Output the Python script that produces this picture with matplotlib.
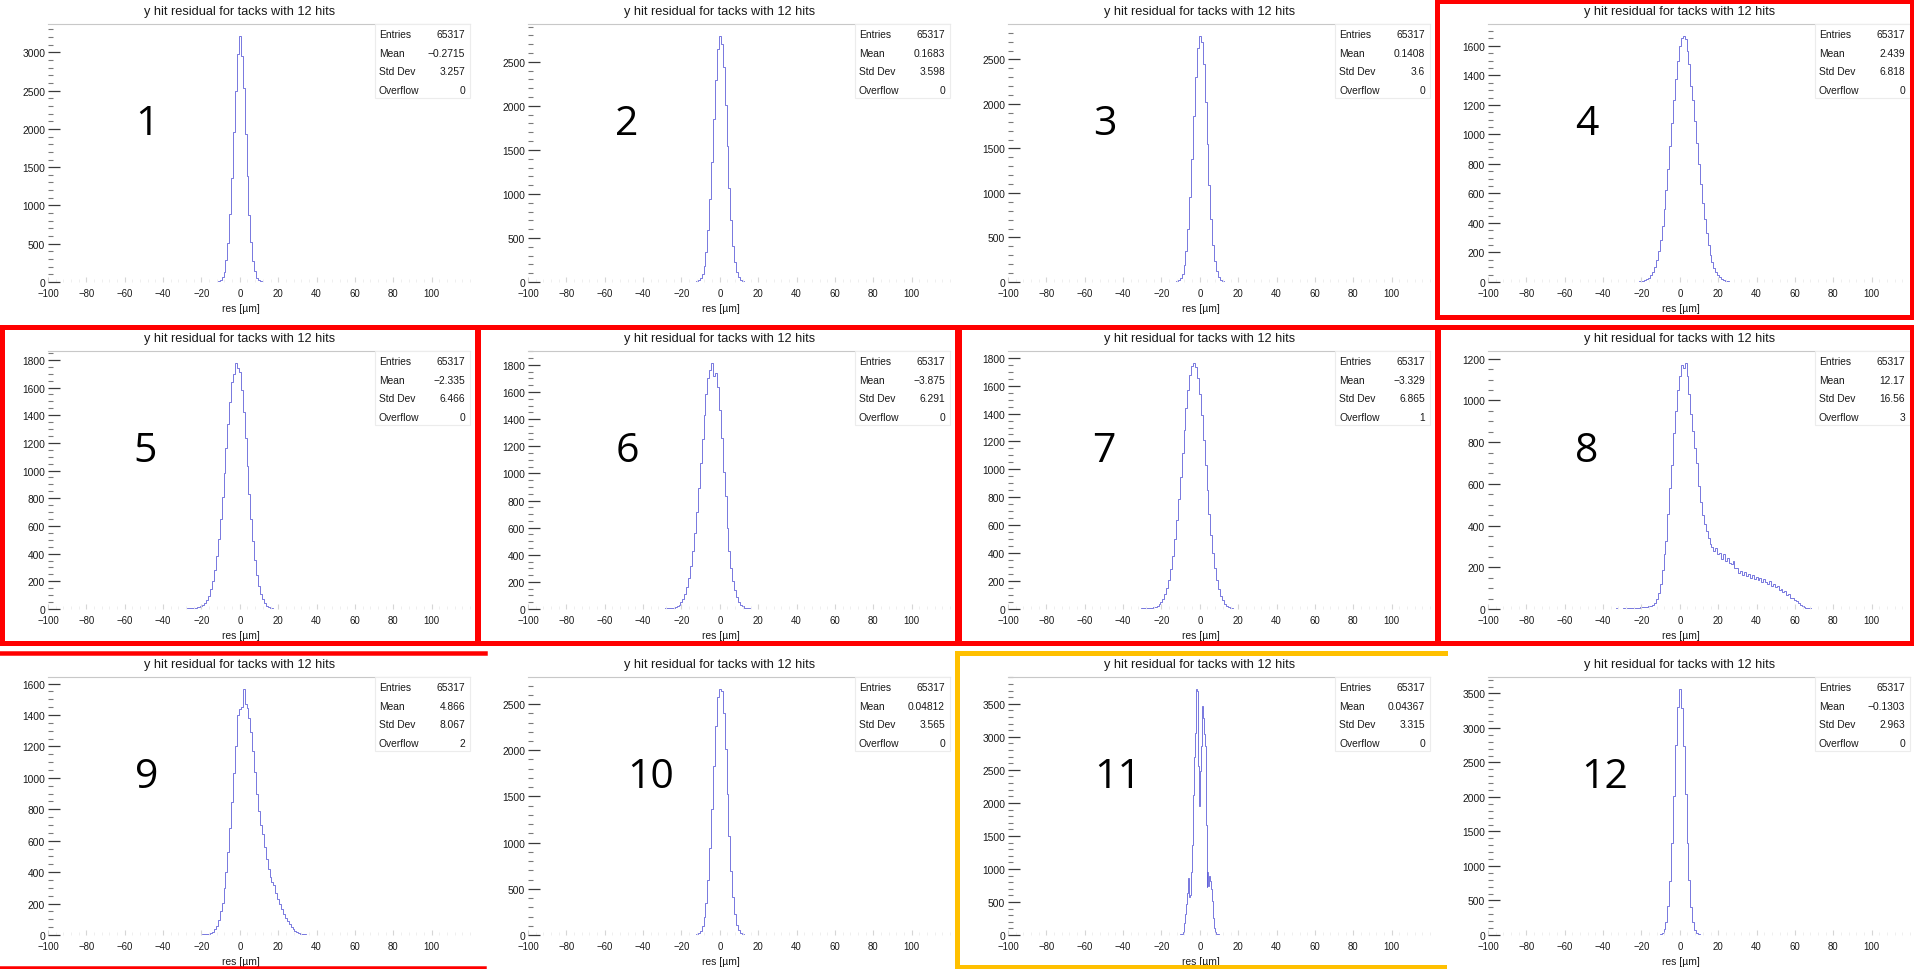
import numpy as np
import matplotlib
matplotlib.use("Agg")
import matplotlib.pyplot as plt
from matplotlib.lines import Line2D
from matplotlib.patches import Rectangle
from matplotlib.ticker import MultipleLocator, FuncFormatter

# ---------------------------------------------------------------- data
# y hit residuals per plane (counts per bin); bins start at res_lo, width res_width
res_lo = [-12.5, -12.5, -12.5, -25.5, -30.5, -32.5, -35.5, -40.5, -30.5, -12.5, -12.0, -12.5]
res_width = [1, 1, 1, 1, 1, 1, 1, 1, 1, 1, 0.5, 1]

counts_1 = [4, 9, 24, 63, 131, 284, 512, 893, 1362, 1960, 2495, 2985, 3210, 2950, 2530,
            1930, 1390, 870, 525, 270, 140, 58, 27, 10, 4]
counts_2 = [7, 18, 40, 92, 180, 345, 586, 941, 1368, 1856, 2296, 2645, 2790, 2705, 2440,
            2005, 1540, 1070, 701, 412, 232, 114, 55, 22, 9]
counts_3 = [8, 19, 44, 95, 190, 350, 600, 950, 1380, 1860, 2300, 2630, 2760, 2700, 2450,
            2020, 1550, 1085, 705, 420, 235, 118, 56, 24, 10]
counts_4 = [1, 2, 2, 3, 4, 4, 7, 12, 19, 30,
            47, 71, 105, 150, 209, 285, 380, 492, 622, 767,
            922, 1080, 1234, 1376, 1495, 1600, 1655, 1665, 1648, 1566,
            1477, 1330, 1232, 1089, 942, 797, 661, 536, 425, 330,
            251, 186, 136, 97, 67, 46, 31, 20, 13, 8,
            5, 3, 2, 1]
counts_5 = [2, 3, 3, 4, 5, 6, 7, 9, 12, 16,
            22, 31, 45, 66, 95, 141, 202, 282, 383, 506,
            649, 811, 984, 1163, 1336, 1493, 1640, 1700, 1775, 1740,
            1710, 1584, 1423, 1235, 1032, 834, 650, 489, 355, 249,
            168, 110, 69, 42, 25, 14, 8, 5, 3, 2, 1]
counts_6 = [2, 2, 3, 3, 4, 5, 6, 7, 9, 13,
            20, 31, 48, 71, 108, 159, 228, 317, 428, 563,
            718, 891, 1073, 1257, 1431, 1582, 1700, 1760, 1812, 1720,
            1740, 1640, 1470, 1260, 1010, 830, 600, 430, 300, 205,
            139, 89, 55, 33, 19, 10, 6, 4, 3, 2, 1]
counts_7 = [1, 2, 2, 3, 3, 4, 4, 5, 6, 7,
            9, 12, 16, 23, 34, 50, 70, 104, 149, 209,
            287, 383, 499, 634, 786, 949, 1118, 1284, 1439, 1572,
            1673, 1738, 1760, 1734, 1658, 1540, 1387, 1214, 1031, 850,
            680, 528, 398, 291, 207, 143, 96, 62, 39, 24,
            14, 8, 5, 3, 2, 1]
counts_8 = [1, 0, 2, 1, 1, 2, 0, 3, 1, 2,
            2, 3, 2, 4, 3, 5, 4, 5, 6, 6,
            8, 9, 10, 11, 12, 14, 18, 27, 46, 76,
            122, 188, 262, 328, 455, 578, 690, 842, 948, 1052,
            1118, 1172, 1155, 1178, 1118, 1032, 936, 852, 772, 702,
            592, 512, 452, 408, 372, 340, 312, 298, 276, 292,
            262, 270, 241, 262, 230, 246, 221, 214, 228, 196,
            195, 172, 184, 162, 178, 156, 168, 150, 162, 143,
            152, 138, 148, 130, 142, 128, 122, 132, 110, 118,
            104, 110, 92, 98, 82, 84, 66, 70, 54, 52,
            42, 40, 28, 20, 14, 9, 6, 4, 3, 2,
            2, 1, 1, 1, 0, 1]
counts_9 = [1, 1, 2, 1, 2, 2, 1, 2, 3, 2,
            3, 4, 5, 6, 8, 11, 20, 38, 60, 96,
            150, 205, 300, 400, 530, 680, 846, 1030, 1200, 1400,
            1440, 1452, 1564, 1468, 1446, 1380, 1290, 1170, 1040, 900,
            790, 700, 640, 560, 482, 420, 372, 338, 316, 270,
            232, 198, 165, 136, 110, 88, 70, 52, 38, 25,
            16, 10, 7, 5, 4, 3, 3, 2, 2, 1, 1]
counts_10 = [8, 19, 42, 95, 190, 350, 600, 940, 1360, 1830, 2260, 2580, 2660, 2640, 2400,
             2010, 1530, 1070, 690, 410, 225, 112, 52, 21, 9]
counts_11 = [2, 4, 6, 10, 14, 22, 40, 80, 180, 320,
             470, 640, 860, 580, 600, 960, 1360, 2120, 2700, 3060,
             3720, 3700, 2560, 1960, 2480, 2860, 3470, 3290, 3050, 2860,
             1660, 720, 950, 740, 900, 820, 700, 520, 250, 100,
             45, 22, 12, 8, 5, 3, 2, 1]
counts_12 = [1, 3, 11, 29, 82, 190, 415, 780, 1340, 2020, 2750, 3300, 3560, 3290, 2735,
             2040, 1330, 790, 405, 195, 78, 31, 10, 3, 1]

entries = [65317, 65317, 65317, 65317, 65317, 65317, 65317, 65317, 65317, 65317, 65317, 65317]
means = [-0.2715, 0.1683, 0.1408, 2.439, -2.335, -3.875, -3.329, 12.17, 4.866, 0.04812, 0.04367, -0.1303]
std_devs = [3.257, 3.598, 3.6, 6.818, 6.466, 6.291, 6.865, 16.56, 8.067, 3.565, 3.315, 2.963]
overflows = [0, 0, 0, 0, 0, 0, 1, 3, 2, 0, 0, 0]

y_major = [500, 500, 500, 200, 200, 200, 200, 200, 200, 500, 500, 500]
y_minor = [100, 100, 100, 50, 50, 50, 50, 50, 50, 100, 100, 100]
x_ticks = [-100, -80, -60, -40, -20, 0, 20, 40, 60, 80, 100]

title = "y hit residual for tacks with 12 hits"
xlabel = "res [\u00b5m]"

counts_all = [counts_1, counts_2, counts_3, counts_4, counts_5, counts_6,
              counts_7, counts_8, counts_9, counts_10, counts_11, counts_12]

# ---------------------------------------------------------------- layout
W, H, DPI = 1915, 970, 100
COL_W = 480
ROW_TOPS = [0, 327, 653]
panel_tag_x = [147, 147, 145, 147, 145, 147, 144, 147, 147, 171, 158, 165]

plt.rcParams["font.family"] = ["Liberation Sans", "DejaVu Sans"]
TXT = "#1a1a1a"
HIST_C = "#3a3ad0"

fig = plt.figure(figsize=(W / DPI, H / DPI), dpi=DPI)
fig.patch.set_facecolor("white")


def fx(px):
    return px / W


def fy(py):
    return 1 - py / H


def fmt_num(v):
    return f"{v:.4g}".replace("-", "\u2212")


for i in range(12):
    r, c = divmod(i, 4)
    ox, oy = c * COL_W, ROW_TOPS[r]
    counts = np.asarray(counts_all[i], dtype=float)
    edges = res_lo[i] + res_width[i] * np.arange(len(counts) + 1)

    ax = fig.add_axes([fx(ox + 48), fy(oy + 283), 422 / W, 258 / H])
    ax.set_facecolor("none")
    ax.stairs(counts, edges, color=HIST_C, lw=0.6, alpha=0.8)
    ax.set_xlim(-100, 120)
    ax.set_ylim(0, 1.05 * counts.max())

    for side in ("left", "bottom", "right"):
        ax.spines[side].set_visible(False)
    ax.spines["top"].set_color("#c8c8c8")
    ax.spines["top"].set_linewidth(0.8)

    ax.set_xticks(x_ticks)
    ax.xaxis.set_minor_locator(MultipleLocator(4))
    ax.yaxis.set_major_locator(MultipleLocator(y_major[i]))
    ax.yaxis.set_minor_locator(MultipleLocator(y_minor[i]))
    ax.yaxis.set_major_formatter(FuncFormatter(lambda v, p: f"{int(round(v))}"))

    ax.tick_params(axis="x", which="major", direction="in", length=3.5, width=0.8,
                   color="#d6d6d6", pad=4, labelsize=6.9, labelcolor=TXT)
    ax.tick_params(axis="x", which="minor", direction="in", length=2, width=0.6,
                   color="#ececec")
    ax.tick_params(axis="y", which="major", direction="in", length=8.6, width=0.9,
                   color="#3a3a3a", pad=2, labelsize=7.4, labelcolor=TXT)
    ax.tick_params(axis="y", which="minor", direction="in", length=3.6, width=0.8,
                   color="#7a7a7a")

    # titles and axis label
    fig.text(fx(ox + 240), fy(oy + 12), title, ha="center", va="center",
             fontsize=9.2, color=TXT)
    fig.text(fx(ox + 241), fy(oy + 309), xlabel, ha="center", va="center",
             fontsize=7.4, color=TXT)

    # statistics box
    fig.add_artist(Rectangle((fx(ox + 375), fy(oy + 99)), 95 / W, 74 / H,
                             transform=fig.transFigure, fill=True, facecolor="white",
                             edgecolor="#ececec", lw=0.8, zorder=3))
    rows = [("Entries", f"{entries[i]}"), ("Mean", fmt_num(means[i])),
            ("Std Dev", fmt_num(std_devs[i])), ("Overflow", f"{overflows[i]}")]
    for k, (lab, val) in enumerate(rows):
        yy = fy(oy + 35 + 18.7 * k)
        fig.text(fx(ox + 379), yy, lab, ha="left", va="center", fontsize=7.4,
                 color=TXT, zorder=4)
        fig.text(fx(ox + 465), yy, val, ha="right", va="center", fontsize=7.4,
                 color=TXT, zorder=4)

    # plane number
    fig.text(fx(ox + panel_tag_x[i]), fy(oy + 135.5), str(i + 1), ha="center",
             va="baseline", fontsize=29.5, family=["Open Sans", "DejaVu Sans"],
             color="black")

# ---------------------------------------------------------------- highlight frames
RED = "#ff0000"
GOLD = "#ffc000"


def seg(x0, y0, x1, y1, color, lw_px=5.0):
    fig.add_artist(Line2D([fx(x0), fx(x1)], [fy(y0), fy(y1)], transform=fig.transFigure,
                          color=color, lw=lw_px * 72 / DPI, solid_capstyle="projecting",
                          zorder=10))


def box(x0, y0, x1, y1, color, lw_px=5.0):
    seg(x0, y0, x1, y0, color, lw_px)
    seg(x0, y1, x1, y1, color, lw_px)
    seg(x0, y0, x0, y1, color, lw_px)
    seg(x1, y0, x1, y1, color, lw_px)


box(1437, 1.5, 1912, 318, RED)
for x0, x1 in [(2, 477), (478.5, 957.5), (959, 1437), (1438.5, 1912)]:
    box(x0, 327.5, x1, 644, RED)
seg(0, 654, 485, 654, RED, 4.5)
seg(0, 968.5, 485, 968.5, RED, 3.5)
seg(957.5, 654, 1445, 654, GOLD)
seg(957.5, 654, 957.5, 968, GOLD)
seg(957.5, 968, 1445, 968, GOLD, 4.0)

fig.savefig("out.png", dpi=DPI, facecolor="white")
